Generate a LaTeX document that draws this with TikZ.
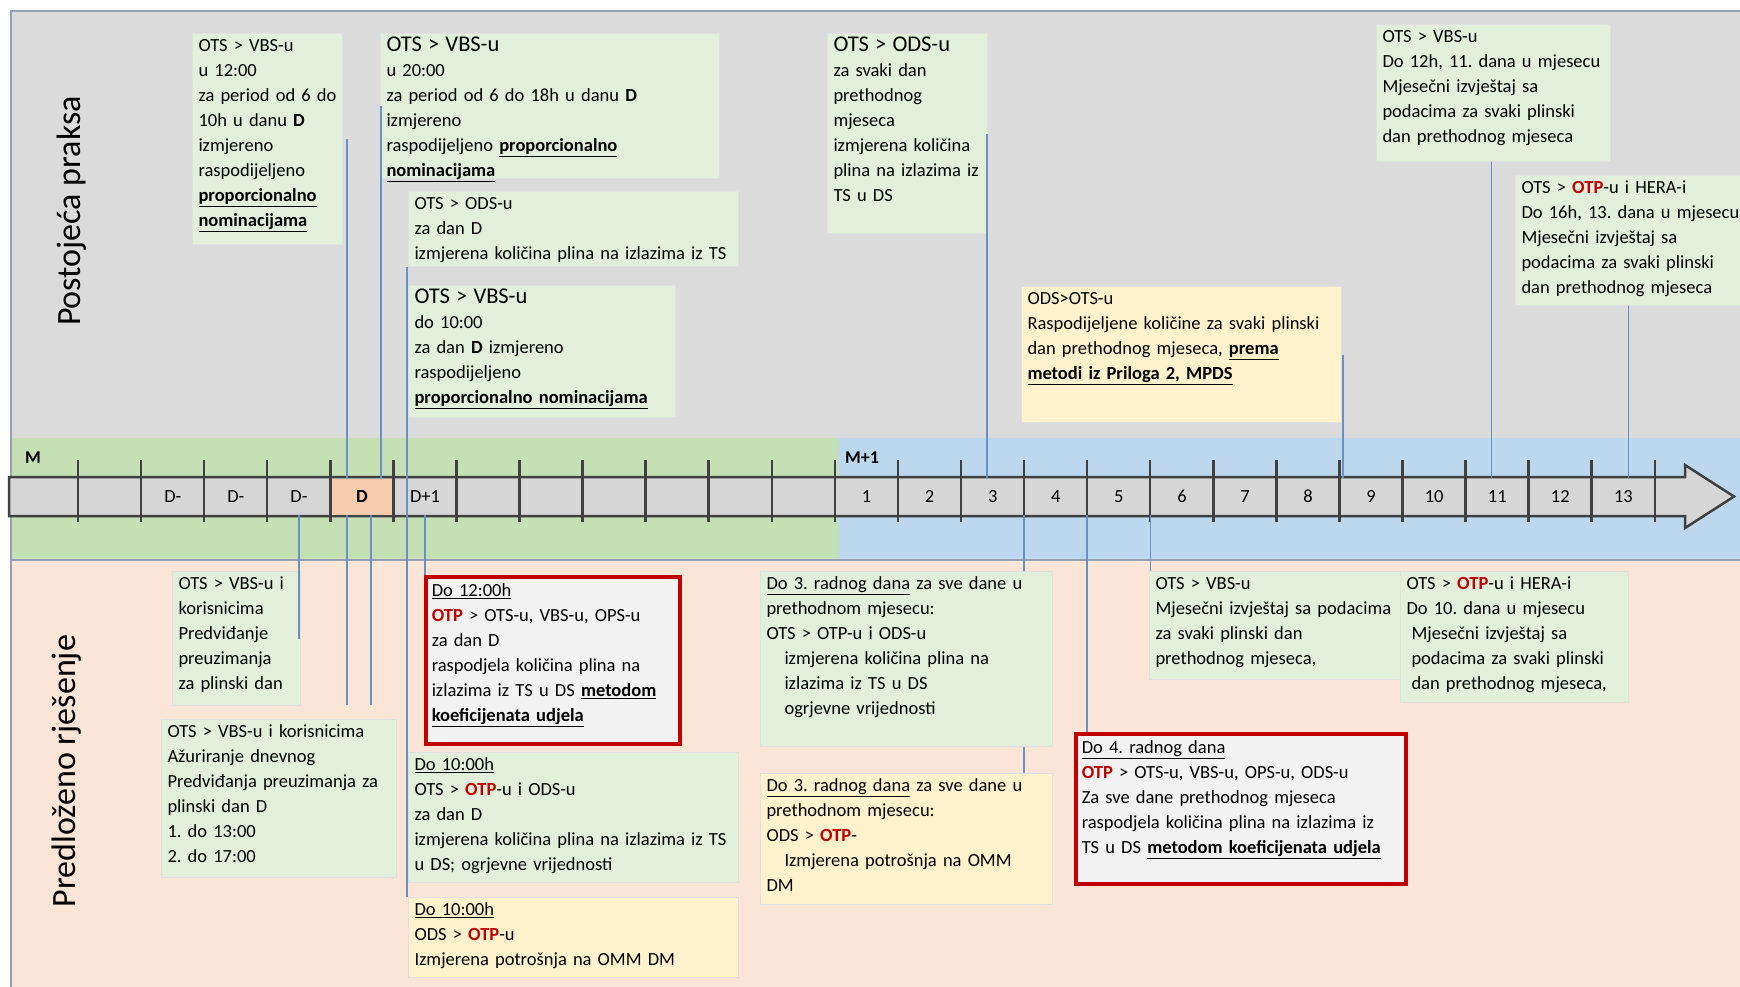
\documentclass[tikz,border=0pt]{standalone}
\usepackage{fontspec}
\setmainfont{Carlito}
\usepackage{xcolor}

\definecolor{topgray}{RGB}{219,219,219}
\definecolor{bandgreen}{RGB}{197,224,180}
\definecolor{bandblue}{RGB}{189,215,238}
\definecolor{lowsalmon}{RGB}{251,229,214}
\definecolor{boxgreen}{RGB}{226,239,218}
\definecolor{boxyellow}{RGB}{255,242,204}
\definecolor{otpred}{RGB}{192,0,0}
\definecolor{dorange}{RGB}{248,203,173}
\definecolor{connblue}{RGB}{104,146,198}
\definecolor{framegray}{RGB}{150,160,178}
\definecolor{arrowgray}{RGB}{214,214,214}
\definecolor{arrowdark}{RGB}{64,64,64}

\newcommand{\boxfont}{\fontsize{18.5}{25}\selectfont\frenchspacing}
\newcommand{\bigline}[1]{{\fontsize{22.5}{25}\selectfont #1}}
\newcommand{\otp}{\textcolor{otpred}{\textbf{OTP}}}
\newcommand{\udl}[1]{\underline{#1}}

\begin{document}
\begin{tikzpicture}[x=1pt, y=-1pt,
    infobox/.style={anchor=north west, align=left, inner xsep=6pt, inner ysep=4pt,
        text height=14pt, font=\boxfont, line width=1pt},
    greenbox/.style={infobox, fill=boxgreen, draw=black!12},
    yellowbox/.style={infobox, fill=boxyellow, draw=black!12},
    redbox/.style={infobox, fill=black!5, draw=otpred, line width=3.5pt, text height=16pt},
    boxsize/.style 2 args={text width=#1-12pt, text depth=#2-22pt},
    conn/.style={draw=connblue, line width=1.4pt},
    daycell/.style={anchor=west, minimum width=63.07pt, minimum height=36pt,
        inner sep=0pt, font=\boxfont},
    daytick/.style={draw=arrowdark, line width=2.5pt}]
    \useasboundingbox (0,0) rectangle (1740,986);

    % Backgrounds
    \fill[topgray] (11,11) rectangle (1745,438);
    \fill[bandgreen] (11,438) rectangle (838,560);
    \fill[bandblue] (838,438) rectangle (1745,560);
    \fill[lowsalmon] (11,560) rectangle (1745,990);
    \draw[framegray, line width=1.5pt] (11,560) -- (1745,560);
    \draw[framegray, line width=1.5pt] (11,990) |- (1745,11);

    % Section titles
    \node[rotate=90, font=\fontsize{34}{40}\selectfont] (practice) at (72,211) {Postojeća praksa};
    \node[rotate=90, font=\fontsize{34}{40}\selectfont] (proposal) at (67,771) {Predloženo rješenje};

    % Months
    \node[font=\bfseries\fontsize{18}{20}\selectfont] (mprev) at (33,458) {M};
    \node[font=\bfseries\fontsize{18}{20}\selectfont] (mnext) at (862,458) {M+1};

    % Timeline arrow
    \draw[draw=arrowdark, fill=arrowgray, line width=2.5pt] (9,477) -- (1685,477) -- (1685,465)
        -- (1734,496.5) -- (1685,528) -- (1685,516) -- (9,516) -- cycle;
    \foreach \i/\lab/\bg in {0/{}/none,1/D-/none,2/D-/none,3/D-/none,4/\textbf{D}/dorange,
        5/D+1/none,6/{}/none,7/{}/none,8/{}/none,9/{}/none,10/{}/none,11/{}/none}
        \node[daycell, fill=\bg] (cell\i) at ({78+63.07*\i},496.5) {\lab};
    \foreach \d in {1,...,13}
        \node[daycell] (day\d) at ({78+63.07*(\d+11)},496.5) {\d};
    \foreach \i in {0,...,25}
        \draw[daytick] ({78+63.07*\i},460) -- ({78+63.07*\i},522);

    % Current practice
    \node[greenbox, boxsize={150pt}{211pt}] (t1) at (192,33) {OTS > VBS-u\\ u 12:00\\
        za period od 6 do\\ 10h u danu \textbf{D}\\ izmjereno\\ raspodijeljeno\\
        \udl{\textbf{proporcionalno}}\\ \udl{\textbf{nominacijama}}};
    \node[greenbox, boxsize={339pt}{145pt}] (t2) at (380,33) {\bigline{OTS > VBS-u}\\ u 20:00\\
        za period od 6 do 18h u danu \textbf{D}\\ izmjereno\\
        raspodijeljeno \udl{\textbf{proporcionalno}}\\ \udl{\textbf{nominacijama}}};
    \node[greenbox, boxsize={330pt}{75pt}] (t3) at (408,191) {OTS > ODS-u\\ za dan D\\
        izmjerena količina plina na izlazima iz TS};
    \node[greenbox, boxsize={267pt}{132pt}] (t4) at (408,285) {\bigline{OTS > VBS-u}\\ do 10:00\\
        za dan \textbf{D} izmjereno\\ raspodijeljeno\\ \udl{\textbf{proporcionalno nominacijama}}};
    \node[greenbox, boxsize={160pt}{200pt}] (t5) at (827,33) {\bigline{OTS > ODS-u}\\ za svaki dan\\
        prethodnog\\ mjeseca\\ izmjerena količina\\ plina na izlazima iz\\ TS u DS};
    \node[yellowbox, boxsize={320pt}{136pt}] (t6) at (1021,286) {ODS>OTS-u\\
        Raspodijeljene količine za svaki plinski\\
        dan prethodnog mjeseca, \udl{\textbf{prema}}\\ \udl{\textbf{metodi iz Priloga 2, MPDS}}};
    \node[greenbox, boxsize={234pt}{137pt}] (t7) at (1376,24) {OTS > VBS-u\\
        Do 12h, 11. dana u mjesecu\\ Mjesečni izvještaj sa\\ podacima za svaki plinski\\
        dan prethodnog mjeseca};
    \node[greenbox, boxsize={240pt}{130pt}] (t8) at (1515,175) {OTS > \otp-u i HERA-i\\
        Do 16h, 13. dana u mjesecu\\ Mjesečni izvještaj sa\\ podacima za svaki plinski\\
        dan prethodnog mjeseca};

    % Proposed solution
    \node[greenbox, boxsize={128pt}{134pt}] (b1) at (172,571) {OTS > VBS-u i\\ korisnicima\\
        Predviđanje\\ preuzimanja\\ za plinski dan};
    \node[greenbox, boxsize={235pt}{158pt}] (b2) at (161,719) {OTS > VBS-u i korisnicima\\
        Ažuriranje dnevnog\\ Predviđanja preuzimanja za\\ plinski dan D\\ 1. do 13:00\\ 2. do 17:00};
    \node[redbox, boxsize={254pt}{165pt}] (b3) at (424,575) {\udl{Do 12:00h}\\
        \otp{} > OTS-u, VBS-u, OPS-u\\ za dan D\\ raspodjela količina plina na\\
        izlazima iz TS u DS \udl{\textbf{metodom}}\\ \udl{\textbf{koeficijenata udjela}}};
    \node[greenbox, boxsize={330pt}{130pt}] (b4) at (408,752) {\udl{Do 10:00h}\\
        OTS > \otp-u i ODS-u\\ za dan D\\ izmjerena količina plina na izlazima iz TS\\
        u DS; ogrjevne vrijednosti};
    \node[yellowbox, boxsize={330pt}{80pt}] (b5) at (408,897) {\udl{Do 10:00h}\\
        ODS > \otp-u\\ Izmjerena potrošnja na OMM DM};
    \node[greenbox, boxsize={292pt}{175pt}] (b6) at (760,571) {\udl{Do 3. radnog dana} za sve dane u\\
        prethodnom mjesecu:\\ OTS > OTP-u i ODS-u\\ \hspace*{18pt}izmjerena količina plina na\\
        \hspace*{18pt}izlazima iz TS u DS\\ \hspace*{18pt}ogrjevne vrijednosti};
    \node[yellowbox, boxsize={292pt}{131pt}] (b7) at (760,773) {\udl{Do 3. radnog dana} za sve dane u\\
        prethodnom mjesecu:\\ ODS > \otp-\\ \hspace*{18pt}Izmjerena potrošnja na OMM\\ DM};
    \node[redbox, boxsize={330pt}{148pt}] (b8) at (1074,732) {\udl{Do 4. radnog dana}\\
        \otp{} > OTS-u, VBS-u, OPS-u, ODS-u\\ Za sve dane prethodnog mjeseca\\
        raspodjela količina plina na izlazima iz\\ TS u DS \udl{\textbf{metodom koeficijenata udjela}}};
    \node[greenbox, boxsize={255pt}{108pt}] (b9) at (1149,571) {OTS > VBS-u\\
        Mjesečni izvještaj sa podacima\\ za svaki plinski dan\\ prethodnog mjeseca,};
    \node[greenbox, boxsize={228pt}{131pt}] (b10) at (1400,571) {OTS > \otp-u i HERA-i\\
        Do 10. dana u mjesecu\\ \hspace*{5pt}Mjesečni izvještaj sa\\
        \hspace*{5pt}podacima za svaki plinski\\ \hspace*{5pt}dan prethodnog mjeseca,};

    % Connectors above the timeline
    \draw[conn] ([xshift=4pt]t1.east) -- ([xshift=4pt]t1.east |- cell0.north);
    \draw[conn] ([xshift=1pt]t2.west) -- ([xshift=1pt]t2.west |- cell0.north);
    \draw[conn] ([xshift=-1pt]t3.south west) -- ([xshift=-1pt]b5.north west);
    \draw[conn] ([xshift=-1pt]t5.east) -- ([xshift=-1pt]t5.east |- cell0.north);
    \draw[conn] ([xshift=1pt]t6.east) -- ([xshift=1pt]t6.east |- cell0.north);
    \draw[conn] ([xshift=-2pt]t7.south) -- ([xshift=-2pt]t7.south |- cell0.north);
    \draw[conn] ([xshift=-7pt]t8.south) -- ([xshift=-7pt]t8.south |- cell0.north);

    % Connectors below the timeline
    \draw[conn] (cell3.south) -- (cell3.south |- b1.east);
    \draw[conn, shorten >=14pt] ([xshift=-15pt]cell4.south) -- ([xshift=-15pt]cell4.south |- b2.north);
    \draw[conn, shorten >=14pt] ([xshift=9pt]cell4.south) -- ([xshift=9pt]cell4.south |- b2.north);
    \draw[conn] (cell5.south) -- (cell5.south |- b3.north);
    \draw[conn] (day4.south west) -- (day4.south west |- b6.north);
    \draw[conn] (day4.south west |- b6.south) -- (day4.south west |- b7.north);
    \draw[conn] (day5.south west) -- (day5.south west |- b8.north);
    \draw[conn] (day6.south west) -- (day6.south west |- b9.north);
\end{tikzpicture}
\end{document}
